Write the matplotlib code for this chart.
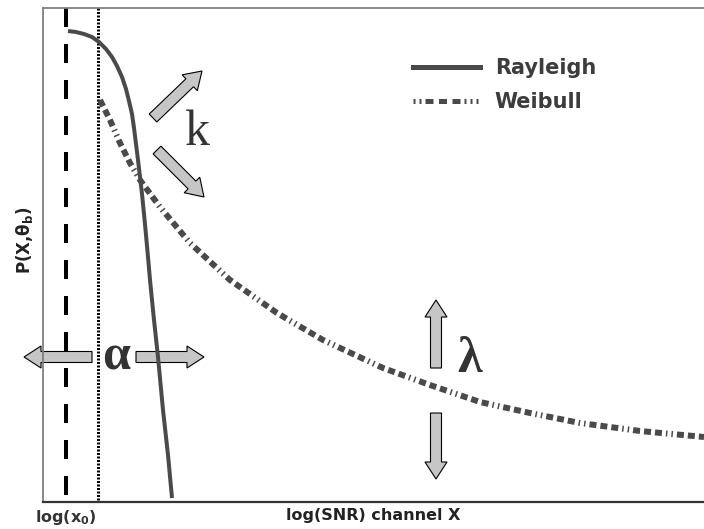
import matplotlib
matplotlib.use('Agg')
import matplotlib.pyplot as plt
import matplotlib.patches as mpatches
import matplotlib.lines as mlines
import numpy as np

# curves (arbitrary units, 1 unit ~ 1 px)
rayleigh_x = [25, 33, 41, 49, 56, 63, 69, 74, 79, 83, 86, 89, 91, 93, 95, 97, 99, 101, 103, 105, 107, 111, 115, 120, 125, 129]
rayleigh_y = [471, 470, 468, 465, 460, 453, 445, 436, 425, 413, 401, 388, 374, 358, 342, 325, 308, 288, 267, 245, 222, 182, 145, 92, 47, 4]

weibull_x = [57, 67, 77, 87, 97, 117, 147, 187, 234, 280, 340, 387, 437, 487, 537, 597, 661]
weibull_y = [402, 382, 359, 339, 322, 295, 259, 222, 189, 162, 134, 117, 100, 89, 79, 71, 65]

x0 = 23        # log(x0) threshold
alpha_x = 55   # shifted start of Weibull

# arrows: (tail x, tail y, tip x, tip y)
arrows = [
    (110, 384, 159, 431),
    (114, 352, 161, 305),
    (49, 145, -19, 145),
    (93, 145, 161, 145),
    (393, 134, 393, 202),
    (393, 89, 393, 23),
]
# greek / letter labels: (x, y, text, bold)
symbols = [
    (154, 369, 'k', False),
    (73, 145, 'α', True),
    (427, 142, 'λ', True),
]

plt.rcParams['lines.scale_dashes'] = False
plt.rcParams['mathtext.fontset'] = 'dejavusans'

fig = plt.figure(figsize=(7.04, 5.29), dpi=100)
ax = fig.add_axes([43/704, 27/529, 661/704, 494/529])
ax.set_xlim(0, 661)
ax.set_ylim(0, 494)

curve_col = '#4a4a4a'
px = 0.72  # one pixel in points

ax.plot([x0, x0], [494, 0], color='black', lw=4*px, dashes=(19*px, 17*px), zorder=1)
ax.plot([alpha_x, alpha_x], [494, 0], color='black', lw=3*px, dashes=(2*px, 1.5*px), zorder=1)

for tx, ty, hx, hy in arrows:
    ar = mpatches.FancyArrow(tx, ty, hx-tx, hy-ty, width=11, head_width=22, head_length=17,
                             length_includes_head=True, facecolor='#c6c6c6', edgecolor='black',
                             lw=0.8, zorder=2, clip_on=False)
    ax.add_patch(ar)

wb_dash = (7*px, 4*px, 7*px, 4*px, 7*px, 4*px, 1.5*px, 4*px, 1.5*px, 4*px)
ax.plot(weibull_x, weibull_y, color=curve_col, lw=6*px, dashes=wb_dash, zorder=3,
        solid_capstyle='butt', dash_capstyle='butt')
ax.plot(rayleigh_x, rayleigh_y, color=curve_col, lw=4*px, zorder=4, solid_capstyle='butt',
        solid_joinstyle='round')

for sx, sy, s, b in symbols:
    ax.text(sx, sy, s, fontsize=36, family='Liberation Serif', fontweight='bold' if b else 'normal',
            color='#333333', ha='center', va='center', zorder=5)

h1 = mlines.Line2D([], [], color=curve_col, lw=5*px)
h2 = mlines.Line2D([], [], color=curve_col, lw=5*px,
                   dashes=(2*px, 4*px, 2*px, 4*px, 8*px, 5.5*px, 8*px, 5.5*px, 8*px, 4*px,
                           2*px, 4*px, 2*px, 4*px, 2*px, 40*px))
leg = ax.legend([h1, h2], ['Rayleigh', 'Weibull'], loc='upper left', bbox_to_anchor=(0.5598, 0.899),
                frameon=False, prop={'family': 'DejaVu Sans', 'weight': 'bold', 'size': 15},
                handlelength=3.2, handletextpad=0.72, borderpad=0, borderaxespad=0,
                labelspacing=0.69, labelcolor='#3c3c3c')

for side in ['top', 'left']:
    ax.spines[side].set_color('#808080')
    ax.spines[side].set_linewidth(1.3)
ax.spines['bottom'].set_color('#333333')
ax.spines['bottom'].set_linewidth(1.6)
ax.spines['right'].set_visible(False)

ax.set_xticks([x0])
ax.set_xticklabels(['log(x$_\\mathbf{0}$)'], fontsize=11.5, fontweight='bold', color='#333333')
ax.tick_params(axis='x', length=0, pad=4)
ax.set_yticks([])

ax.set_xlabel('log(SNR) channel X', fontsize=11.5, fontweight='bold', color='#222222')
ax.xaxis.set_label_coords(0.5, -0.012)
ax.set_ylabel('P(X,θ$_\\mathbf{b}$)', fontsize=12, fontweight='bold', color='#222222')
ax.yaxis.set_label_coords(-0.012, 0.53)

plt.savefig('out.png', dpi=100)
